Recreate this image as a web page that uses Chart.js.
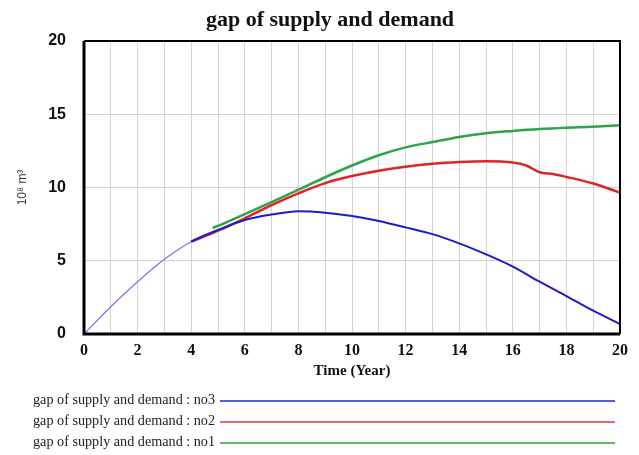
<!DOCTYPE html>
<html>
<head>
<meta charset="utf-8">
<script src="https://cdn.jsdelivr.net/npm/chart.js@4/dist/chart.umd.min.js"></script>
<style>
  html, body { margin: 0; padding: 0; background: #fff; }
  #wrap { position: relative; width: 639px; height: 455px; }
  #title {
    position: absolute; left: 0; top: 6px; width: 660px; text-align: center;
    font: bold 22px "Liberation Serif", "Times New Roman", serif; color: #111;
  }
  #legend { position: absolute; left: 33px; top: 391px; }
  .row { position: relative; height: 21px; }
  .row span {
    position: absolute; left: 0; top: 0; white-space: nowrap;
    font: 14.2px "Liberation Serif", "Times New Roman", serif; color: #222;
  }
  .row i { position: absolute; left: 187px; top: 9px; width: 395px; height: 2px; }
</style>
</head>
<body>
<div id="wrap">
  <canvas id="canvas" width="639" height="455"></canvas>
  <div id="title">gap of supply and demand</div>
  <div id="legend"></div>
</div>
<script>
var no3Years = [0, 1, 2, 3, 4, 5, 6, 7, 8, 9, 10, 11, 12, 13, 14, 15, 16, 17, 18, 19, 20];
var no3Values = [0, 1.86, 3.57, 5.1, 6.3, 7.1, 7.78, 8.15, 8.38, 8.28, 8.06, 7.72, 7.28, 6.82, 6.19, 5.44, 4.6, 3.57, 2.59, 1.59, 0.68];

var no2Years = [4, 5, 6, 7, 8, 9, 10, 11, 12, 13, 14, 15, 16, 16.5, 17, 17.5, 18, 19, 20];
var no2Values = [6.3, 7.05, 7.9, 8.8, 9.6, 10.3, 10.78, 11.15, 11.42, 11.62, 11.74, 11.8, 11.7, 11.5, 11.04, 10.92, 10.72, 10.27, 9.65];

var no1Years = [4.8, 5, 6, 7, 8, 9, 10, 11, 12, 13, 14, 15, 16, 17, 18, 19, 20];
var no1Values = [7.24, 7.38, 8.18, 9.0, 9.85, 10.7, 11.5, 12.2, 12.74, 13.1, 13.45, 13.7, 13.86, 13.99, 14.08, 14.15, 14.25];

var yTicks = [0, 5, 10, 15, 20];

function points(xs, ys) {
    return xs.map(function (x, i) { return { x: x, y: ys[i] }; });
}

var borderPlugin = {
    id: "frame",
    afterDraw: function (chart) {
        var a = chart.chartArea, c = chart.ctx;
        c.save();
        c.strokeStyle = "#000";
        c.lineWidth = 2;
        c.beginPath();
        c.moveTo(a.left, a.top);
        c.lineTo(a.right, a.top);
        c.lineTo(a.right, a.bottom);
        c.stroke();
        c.lineWidth = 3;
        c.beginPath();
        c.moveTo(a.left, a.top);
        c.lineTo(a.left, a.bottom);
        c.lineTo(a.right, a.bottom);
        c.stroke();
        c.restore();
    }
};

var config = {
    type: "line",
    data: {
        datasets: [
            {
                label: "gap of supply and demand : no3",
                data: points(no3Years, no3Values),
                borderColor: "#1c1ccc",
                legendColor: "#5a5ade",
                borderWidth: 2,
                segment: {
                    borderColor: function (ctx) { return ctx.p0.parsed.x < 4 ? "#7474ec" : undefined; },
                    borderWidth: function (ctx) { return ctx.p0.parsed.x < 4 ? 1.2 : undefined; }
                }
            },
            {
                label: "gap of supply and demand : no2",
                data: points(no2Years, no2Values),
                borderColor: "#dc2626",
                legendColor: "#ea6a6a",
                borderWidth: 2.5
            },
            {
                label: "gap of supply and demand : no1",
                data: points(no1Years, no1Values),
                borderColor: "#2ea44a",
                legendColor: "#6ab46a",
                borderWidth: 2.5
            }
        ]
    },
    options: {
        responsive: false,
        animation: false,
        layout: { padding: { top: 41, right: 19, bottom: 70, left: 0 } },
        elements: { point: { radius: 0 }, line: { cubicInterpolationMode: "monotone" } },
        plugins: { legend: { display: false }, title: { display: false }, tooltip: { enabled: false } },
        scales: {
            x: {
                type: "linear",
                min: 0,
                max: 20,
                afterFit: function (s) { s.height = 51; },
                grid: { color: "#d4d4d4", drawTicks: false },
                border: { display: false },
                ticks: {
                    stepSize: 2,
                    padding: 7,
                    maxRotation: 0,
                    color: "#111",
                    font: { family: "'Liberation Serif', 'Times New Roman', serif", size: 16, weight: "bold" }
                },
                afterBuildTicks: function (s) {
                    // gridlines every year, labels every second year
                    var t = [];
                    for (var i = 0; i <= 20; i++) t.push({ value: i });
                    s.ticks = t;
                },
                afterTickToLabelConversion: function (s) {
                    s.ticks.forEach(function (t) { t.label = t.value % 2 === 0 ? String(t.value) : ""; });
                },
                title: {
                    display: true,
                    text: "Time (Year)",
                    color: "#111",
                    padding: { top: 0, bottom: 5 },
                    font: { family: "'Liberation Serif', 'Times New Roman', serif", size: 15, weight: "bold" }
                }
            },
            y: {
                min: 0,
                max: 20,
                afterFit: function (s) { s.width = 84; },
                afterBuildTicks: function (s) { s.ticks = yTicks.map(function (v) { return { value: v }; }); },
                grid: { color: "#d4d4d4", drawTicks: false },
                border: { display: false },
                ticks: {
                    padding: 18,
                    color: "#111",
                    font: { family: "'Liberation Sans', Arial, sans-serif", size: 16, weight: "bold" }
                },
                title: {
                    display: true,
                    text: "10⁸ m³",
                    color: "#333",
                    padding: { top: 15, bottom: 0 },
                    font: { family: "'Liberation Sans', Arial, sans-serif", size: 12 }
                }
            }
        }
    },
    plugins: [borderPlugin]
};

window.onload = function () {
    var ctx = document.getElementById("canvas").getContext("2d");
    window.myLine = new Chart(ctx, config);
    var legend = document.getElementById("legend");
    window.myLine.data.datasets.forEach(function (ds) {
        var row = document.createElement("div");
        row.className = "row";
        var label = document.createElement("span");
        label.textContent = ds.label;
        var line = document.createElement("i");
        line.style.background = ds.legendColor;
        row.appendChild(label);
        row.appendChild(line);
        legend.appendChild(row);
    });
};
</script>
</body>
</html>
